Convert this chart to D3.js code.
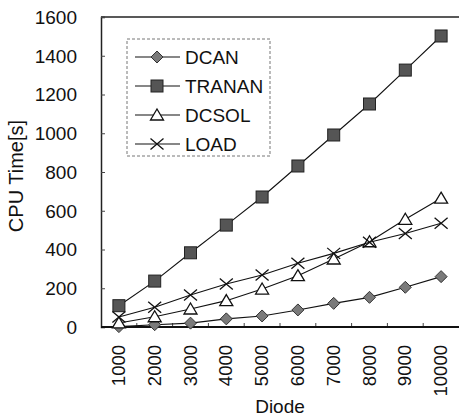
<!DOCTYPE html>
<html lang="en">
<head>
<meta charset="UTF-8">
<title>CPU Time vs Diode</title>
<script src="https://d3js.org/d3.v7.min.js"></script>
<style>
  body { margin: 0; background: #fff; }
  text { font-family: "Liberation Sans", Arial, sans-serif; fill: #111; }
</style>
</head>
<body>
<svg width="459" height="419" id="canvas"></svg>
<script>
    // data
    const diodes = [1000, 2000, 3000, 4000, 5000, 6000, 7000, 8000, 9000, 10000];
    const dcan   = [2, 12, 20, 42, 57, 88, 122, 153, 205, 260];
    const tranan = [110, 237, 383, 526, 671, 831, 991, 1151, 1326, 1502];
    const dcsol  = [21, 53, 93, 136, 196, 265, 351, 440, 556, 665];
    const load   = [52, 102, 165, 222, 268, 329, 380, 437, 483, 535];
    const yTicks = [0, 200, 400, 600, 800, 1000, 1200, 1400, 1600];

    const series = [
        {name: "DCAN", values: dcan, marker: "diamond"},
        {name: "TRANAN", values: tranan, marker: "square"},
        {name: "DCSOL", values: dcsol, marker: "triangle"},
        {name: "LOAD", values: load, marker: "cross"}
    ];

    let svg = d3.select("svg");
    const plotL = 101, plotR = 459, plotT = 17, plotB = 327;

    let x = d3.scaleBand().domain(diodes).range([plotL, plotR]);
    let y = d3.scaleLinear().domain([0, 1600]).range([plotB, plotT]);

    // markers
    function drawMarker(g, type, cx, cy) {
        if (type === "diamond") {
            g.append("path")
                .attr("d", `M${cx},${cy - 6}L${cx + 6},${cy}L${cx},${cy + 6}L${cx - 6},${cy}Z`)
                .attr("fill", "#7a7a7a").attr("stroke", "#333").attr("stroke-width", 1);
        } else if (type === "square") {
            g.append("rect")
                .attr("x", cx - 6).attr("y", cy - 6)
                .attr("width", 12).attr("height", 12)
                .attr("fill", "#555").attr("stroke", "#222").attr("stroke-width", 1);
        } else if (type === "triangle") {
            g.append("path")
                .attr("d", `M${cx},${cy - 6}L${cx + 6.5},${cy + 5}L${cx - 6.5},${cy + 5}Z`)
                .attr("fill", "#fff").attr("stroke", "#111").attr("stroke-width", 1.3);
        } else {
            g.append("path")
                .attr("d", `M${cx - 6.5},${cy - 5.5}L${cx + 6.5},${cy + 5.5}M${cx - 6.5},${cy + 5.5}L${cx + 6.5},${cy - 5.5}`)
                .attr("fill", "none").attr("stroke", "#111").attr("stroke-width", 1.3);
        }
    }

    // frame
    svg.append("line").attr("x1", plotL).attr("x2", plotR).attr("y1", plotT).attr("y2", plotT)
        .attr("stroke", "#222").attr("stroke-width", 1.5);

    // y axis
    let yAxis = d3.axisRight(y).tickValues(yTicks).tickSize(4).tickFormat("");
    svg.append("g").attr("transform", `translate(${plotL},0)`).call(yAxis)
        .call(g => g.select(".domain").attr("stroke", "#222").attr("stroke-width", 1.5))
        .call(g => g.selectAll(".tick line").attr("stroke", "#444"));

    svg.append("g").selectAll("text").data(yTicks).enter().append("text")
        .attr("x", 77).attr("y", d => y(d))
        .attr("dy", "0.36em")
        .attr("text-anchor", "end")
        .attr("font-size", 19)
        .text(d => d);

    // x axis: ticks at band boundaries, pointing inward
    let bounds = diodes.slice(1).map(d => x(d));
    svg.append("g").selectAll("line").data(bounds).enter().append("line")
        .attr("x1", d => d).attr("x2", d => d)
        .attr("y1", plotB).attr("y2", plotB - 4)
        .attr("stroke", "#444");
    svg.append("line").attr("x1", plotL).attr("x2", plotR).attr("y1", plotB).attr("y2", plotB)
        .attr("stroke", "#111").attr("stroke-width", 2);

    svg.append("g").selectAll("text").data(diodes).enter().append("text")
        .attr("transform", d => `translate(${x(d) + x.bandwidth() / 2 + 6},345) rotate(-90)`)
        .attr("text-anchor", "end")
        .attr("font-size", 18.5)
        .text(d => d);

    // axis titles
    svg.append("text").attr("x", (plotL + plotR) / 2).attr("y", 413)
        .attr("text-anchor", "middle").attr("font-size", 19).text("Diode");
    svg.append("text").attr("transform", "translate(23,176) rotate(-90)")
        .attr("text-anchor", "middle").attr("font-size", 20).text("CPU Time[s]");

    // lines + markers
    let line = d3.line()
        .x((d, i) => x(diodes[i]) + x.bandwidth() / 2)
        .y(d => y(d));

    series.forEach(s => {
        let g = svg.append("g");
        g.append("path").attr("d", line(s.values))
            .attr("fill", "none").attr("stroke", "#111").attr("stroke-width", 1.1);
        s.values.forEach((v, i) => drawMarker(g, s.marker, x(diodes[i]) + x.bandwidth() / 2, y(v)));
    });

    // legend
    let legend = svg.append("g");
    legend.append("rect").attr("x", 127).attr("y", 39).attr("width", 143).attr("height", 117)
        .attr("fill", "#fff").attr("stroke", "#777").attr("stroke-dasharray", "3,2");
    series.forEach((s, i) => {
        let ly = 57 + i * 29;
        legend.append("line").attr("x1", 135).attr("x2", 180).attr("y1", ly).attr("y2", ly)
            .attr("stroke", "#111").attr("stroke-width", 1.1);
        drawMarker(legend, s.marker, 157, ly);
        legend.append("text").attr("x", 185).attr("y", ly).attr("dy", "0.36em")
            .attr("font-size", 19).text(s.name);
    });
</script>
</body>
</html>
